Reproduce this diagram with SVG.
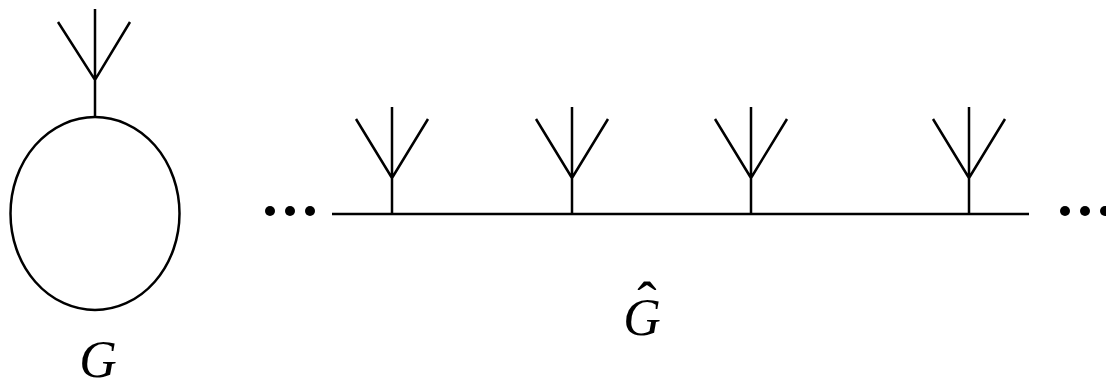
<svg xmlns="http://www.w3.org/2000/svg" width="1106" height="380" viewBox="0 0 1106 380">
<style>
.s{fill:none;stroke:#000;stroke-width:2.5}
.t{font-family:"Liberation Serif",serif;font-style:italic;font-size:52px;fill:#000;text-anchor:middle}
.h{font-style:normal;font-size:58px}
.d{fill:#000}
</style>
<g id="G">
<path class="s" d="M95,9 V117 M58,22 L95,80 L130,22"/>
<ellipse class="s" cx="95" cy="213.5" rx="84.5" ry="96.5"/>
<text class="t" x="98" y="377">G</text>
</g>
<g id="Ghat">
<g id="dotsL"><circle class="d" cx="270" cy="211" r="5"/><circle class="d" cx="290" cy="211" r="5"/><circle class="d" cx="310" cy="211" r="5"/></g>
<g id="dotsR"><circle class="d" cx="1065" cy="211" r="5"/><circle class="d" cx="1085" cy="211" r="5"/><circle class="d" cx="1105" cy="211" r="5"/></g>
<g id="connectors">
<line class="s" x1="332" y1="214" x2="1029" y2="214"/>
<path class="s" d="M392,214 V107 M356,119 L392,178 L428,119"/>
<path class="s" d="M572,214 V107 M536,119 L572,178 L608,119"/>
<path class="s" d="M751,214 V107 M715,119 L751,178 L787,119"/>
<path class="s" d="M969,214 V107 M933,119 L969,178 L1005,119"/>
</g>
<text class="t"><tspan x="642" y="335">G</tspan><tspan class="h" x="647" y="321">ˆ</tspan></text>
</g>
</svg>
